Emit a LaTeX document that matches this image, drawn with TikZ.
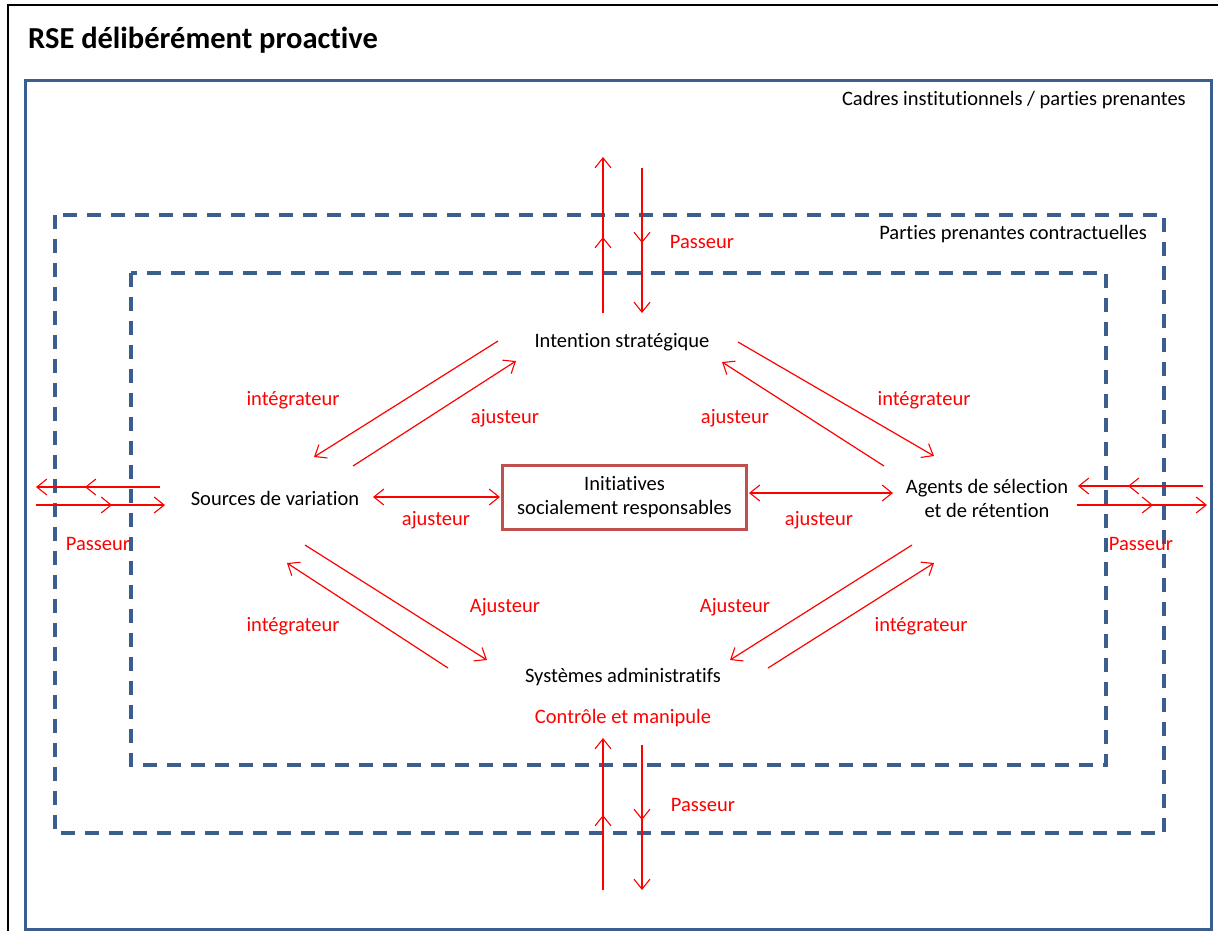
\documentclass[tikz,border=0pt]{standalone}
\usepackage{fontspec}
\setmainfont{Carlito}[Ligatures=NoCommon]
\usetikzlibrary{arrows.meta}
\definecolor{frameblue}{HTML}{3A5F8E}
\definecolor{boxred}{HTML}{C0504D}
\definecolor{arrred}{HTML}{FF0000}
\tikzset{
  lbl/.style={text=black,font=\fontsize{20.5}{24}\selectfont,inner sep=0pt,align=center},
  rlbl/.style={text=arrred,font=\fontsize{20.5}{24}\selectfont,inner sep=0pt},
  conn/.style={draw=arrred,line width=1.2pt,-{Straight Barb[length=10pt,width=16pt,line width=1.1pt]}},
  dconn/.style={draw=arrred,line width=1.2pt,{Straight Barb[length=10pt,width=16pt,line width=1.1pt]}-{Straight Barb[length=10pt,width=16pt,line width=1.1pt]}},
  dashframe/.style={draw=frameblue,line width=3.5pt,dash pattern=on 14pt off 10pt},
}
\begin{document}
\begin{tikzpicture}[x=1pt,y=-1pt]
\useasboundingbox (0,0) rectangle (1218,930);
\clip (0,0) rectangle (1218,930);
\fill[white] (0,0) rectangle (1218,930);
% frames
\draw[black,line width=2.5pt] (8,5) rectangle (1230,945);
\node[anchor=west,font=\fontsize{30.5}{34}\selectfont\bfseries,inner sep=0pt] (title) at (28,40) {RSE délibérément proactive};
\draw[frameblue,line width=3pt] (25,80) rectangle (1211,929);
\node[anchor=east,lbl] (cadres) at (1186,100) {Cadres institutionnels / parties prenantes};
\draw[dashframe] (55,215) rectangle (1164,833);
\node[anchor=east,lbl] (pp) at (1147,234) {Parties prenantes contractuelles};
\draw[dashframe] (131,273) rectangle (1106,765);
% main nodes
\node[lbl] (intent) at (622,342) {Intention stratégique};
\node[lbl] (sources) at (275,498) {Sources de variation};
\node[lbl,draw=boxred,line width=3pt,minimum width=244pt,minimum height=64pt] (isr) at (624.5,497.5) {Initiatives\\socialement responsables};
\node[lbl] (agents) at (987,498) {Agents de sélection\\et de rétention};
\node[lbl] (sys) at (623,677) {Systèmes administratifs};
\node[rlbl] (ctrl) at (623,718) {Contrôle et manipule};
% red labels
\node[rlbl] (pTop) at (702,242) {Passeur};
\node[rlbl] (pBot) at (703,805) {Passeur};
\node[rlbl] (pLeft) at (98,544) {Passeur};
\node[rlbl] (pRight) at (1141,544) {Passeur};
\node[rlbl] (i1) at (293,400) {intégrateur};
\node[rlbl] (a1) at (505,418) {ajusteur};
\node[rlbl] (a2) at (735,418) {ajusteur};
\node[rlbl] (i2) at (924,400) {intégrateur};
\node[rlbl] (a3) at (436,520) {ajusteur};
\node[rlbl] (a4) at (819,520) {ajusteur};
\node[rlbl] (i3) at (293,626) {intégrateur};
\node[rlbl] (A1) at (505,607) {Ajusteur};
\node[rlbl] (A2) at (735,607) {Ajusteur};
\node[rlbl] (i4) at (921,626) {intégrateur};
% coordinates for connector ends
\coordinate (tl1s) at (498,341); \coordinate (tl1e) at (314,457);
\coordinate (tl2s) at (353,466); \coordinate (tl2e) at (516,361);
\coordinate (tr1s) at (738,342); \coordinate (tr1e) at (934,456);
\coordinate (tr2s) at (884,466); \coordinate (tr2e) at (722,362);
\coordinate (bl1s) at (305,545); \coordinate (bl1e) at (487,660);
\coordinate (bl2s) at (448,668); \coordinate (bl2e) at (287,563);
\coordinate (br1s) at (912,545); \coordinate (br1e) at (730,660);
\coordinate (br2s) at (768,668); \coordinate (br2e) at (934,563);
\draw[conn] (tl1s) -- (tl1e);
\draw[conn] (tl2s) -- (tl2e);
\draw[conn] (tr1s) -- (tr1e);
\draw[conn] (tr2s) -- (tr2e);
\draw[conn] (bl1s) -- (bl1e);
\draw[conn] (bl2s) -- (bl2e);
\draw[conn] (br1s) -- (br1e);
\draw[conn] (br2s) -- (br2e);
% horizontal double arrows
\coordinate (hl1) at (373,497); \coordinate (hl2) at (500,497);
\coordinate (hr1) at (749,493); \coordinate (hr2) at (893,493);
\draw[dconn] (hl1) -- (hl2);
\draw[dconn] (hr1) -- (hr2);
% top passeur arrows
\coordinate (tu0) at (603,313); \coordinate (tu1) at (603,237); \coordinate (tu2) at (603,157);
\coordinate (td0) at (642,168); \coordinate (td1) at (642,243); \coordinate (td2) at (642,313);
\draw[conn] (tu0) -- (tu2);
\draw[conn] (tu0) -- (tu1);
\draw[conn] (td0) -- (td2);
\draw[conn] (td0) -- (td1);
% bottom passeur arrows
\coordinate (bu0) at (603,890); \coordinate (bu1) at (603,815); \coordinate (bu2) at (603,738);
\coordinate (bd0) at (642,745); \coordinate (bd1) at (642,820); \coordinate (bd2) at (642,890);
\draw[conn] (bu0) -- (bu2);
\draw[conn] (bu0) -- (bu1);
\draw[conn] (bd0) -- (bd2);
\draw[conn] (bd0) -- (bd1);
% left passeur arrows
\coordinate (ll0) at (160,487); \coordinate (ll1) at (85,487); \coordinate (ll2) at (36,487);
\coordinate (lr0) at (36,505); \coordinate (lr1) at (112,505); \coordinate (lr2) at (165,505);
\draw[conn] (ll0) -- (ll2);
\draw[conn] (ll0) -- (ll1);
\draw[conn] (lr0) -- (lr2);
\draw[conn] (lr0) -- (lr1);
% right passeur arrows
\coordinate (rl0) at (1203,486); \coordinate (rl1) at (1128,486); \coordinate (rl2) at (1078,486);
\coordinate (rr0) at (1077,505); \coordinate (rr1) at (1153,505); \coordinate (rr2) at (1207,505);
\draw[conn] (rl0) -- (rl2);
\draw[conn] (rl0) -- (rl1);
\draw[conn] (rr0) -- (rr2);
\draw[conn] (rr0) -- (rr1);
\end{tikzpicture}
\end{document}
